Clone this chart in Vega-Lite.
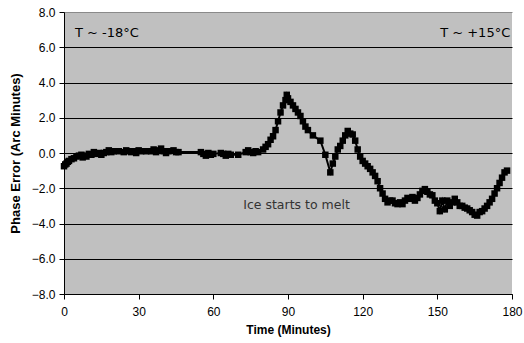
{
  "$schema": "https://vega.github.io/schema/vega-lite/v6.json",
  "width": 448,
  "height": 282,
  "autosize": {"type": "none"},
  "padding": {"left": 64, "top": 12, "right": 12, "bottom": 49},
  "background": "white",
  "config": {
    "view": {"fill": "#c0c0c0", "stroke": null},
    "font": "Liberation Sans"
  },
  "datasets": {
    "series": [
      {"t": 0, "v": -0.75}, {"t": 0.5, "v": -0.65}, {"t": 1, "v": -0.6}, {"t": 1.5, "v": -0.5},
      {"t": 2, "v": -0.45}, {"t": 3, "v": -0.35}, {"t": 4, "v": -0.3}, {"t": 5, "v": -0.2},
      {"t": 6, "v": -0.15}, {"t": 7, "v": -0.1}, {"t": 7.5, "v": -0.25}, {"t": 8, "v": -0.15},
      {"t": 9, "v": -0.2}, {"t": 10, "v": -0.05}, {"t": 11, "v": -0.1}, {"t": 12, "v": 0.05},
      {"t": 13, "v": -0.05}, {"t": 14, "v": 0.0}, {"t": 15, "v": -0.1}, {"t": 16, "v": 0.0},
      {"t": 17, "v": 0.05}, {"t": 18, "v": 0.15}, {"t": 19, "v": 0.05}, {"t": 20, "v": 0.1},
      {"t": 22, "v": 0.1}, {"t": 24, "v": 0.05}, {"t": 25, "v": 0.15}, {"t": 26, "v": 0.1},
      {"t": 27, "v": 0.05}, {"t": 28, "v": 0.1}, {"t": 29, "v": 0.0}, {"t": 30, "v": 0.15},
      {"t": 31, "v": 0.1}, {"t": 33, "v": 0.1}, {"t": 35, "v": 0.1}, {"t": 36, "v": 0.2},
      {"t": 37, "v": 0.05}, {"t": 38, "v": 0.15}, {"t": 39, "v": 0.25}, {"t": 40, "v": 0.1},
      {"t": 41, "v": 0.0}, {"t": 42, "v": 0.1}, {"t": 44, "v": 0.15}, {"t": 45, "v": 0.05},
      {"t": 46, "v": 0.05}, {"t": 55, "v": 0.05}, {"t": 56, "v": -0.05}, {"t": 57, "v": -0.15},
      {"t": 58, "v": 0.0}, {"t": 59, "v": -0.1}, {"t": 60, "v": -0.05}, {"t": 63, "v": 0.0},
      {"t": 64, "v": -0.05}, {"t": 65, "v": -0.15}, {"t": 66, "v": -0.05}, {"t": 67, "v": -0.1},
      {"t": 70, "v": -0.1}, {"t": 73, "v": 0.05}, {"t": 74, "v": 0.15}, {"t": 75, "v": 0.05},
      {"t": 76, "v": 0.0}, {"t": 77, "v": 0.1}, {"t": 78, "v": 0.05}, {"t": 80, "v": 0.2},
      {"t": 81, "v": 0.35}, {"t": 82, "v": 0.5}, {"t": 83, "v": 0.75}, {"t": 84, "v": 0.95},
      {"t": 85, "v": 1.3}, {"t": 86, "v": 1.8}, {"t": 87, "v": 2.3}, {"t": 88, "v": 2.7},
      {"t": 89, "v": 3.0}, {"t": 89.5, "v": 3.3}, {"t": 90, "v": 3.1}, {"t": 91, "v": 2.9},
      {"t": 92, "v": 2.7}, {"t": 93, "v": 2.5}, {"t": 94, "v": 2.3}, {"t": 95, "v": 2.1},
      {"t": 96, "v": 1.8}, {"t": 97, "v": 1.5}, {"t": 98, "v": 1.3}, {"t": 100, "v": 1.0},
      {"t": 103, "v": 0.7}, {"t": 105, "v": -0.1}, {"t": 107, "v": -1.1}, {"t": 108, "v": -0.6},
      {"t": 109, "v": -0.2}, {"t": 110, "v": 0.2}, {"t": 111, "v": 0.4}, {"t": 112, "v": 0.7},
      {"t": 113, "v": 1.0}, {"t": 114, "v": 1.25}, {"t": 115, "v": 1.1}, {"t": 116, "v": 1.05},
      {"t": 117, "v": 0.7}, {"t": 118, "v": 0.2}, {"t": 119, "v": -0.2}, {"t": 120, "v": -0.45},
      {"t": 121, "v": -0.6}, {"t": 122, "v": -0.75}, {"t": 123, "v": -0.9}, {"t": 124, "v": -1.1},
      {"t": 125, "v": -1.3}, {"t": 126, "v": -1.6}, {"t": 127, "v": -2.0}, {"t": 128, "v": -2.3},
      {"t": 129, "v": -2.6}, {"t": 130, "v": -2.8}, {"t": 131, "v": -2.7}, {"t": 132, "v": -2.7},
      {"t": 133, "v": -2.85}, {"t": 134, "v": -2.9}, {"t": 135, "v": -2.8}, {"t": 136, "v": -2.9},
      {"t": 137, "v": -2.7}, {"t": 138, "v": -2.55}, {"t": 139, "v": -2.6}, {"t": 140, "v": -2.5},
      {"t": 141, "v": -2.7}, {"t": 142, "v": -2.55}, {"t": 143, "v": -2.35}, {"t": 144, "v": -2.15},
      {"t": 145, "v": -2.05}, {"t": 146, "v": -2.2}, {"t": 147, "v": -2.35}, {"t": 148, "v": -2.4},
      {"t": 149, "v": -2.7}, {"t": 150, "v": -2.85}, {"t": 151, "v": -3.3}, {"t": 152, "v": -2.7},
      {"t": 153, "v": -3.2}, {"t": 154, "v": -2.7}, {"t": 155, "v": -3.0}, {"t": 156, "v": -2.8},
      {"t": 157, "v": -2.6}, {"t": 158, "v": -2.8}, {"t": 159, "v": -3.0}, {"t": 160, "v": -3.0},
      {"t": 161, "v": -3.1}, {"t": 162, "v": -3.15}, {"t": 163, "v": -3.25}, {"t": 164, "v": -3.35},
      {"t": 165, "v": -3.5}, {"t": 166, "v": -3.55}, {"t": 167, "v": -3.35}, {"t": 168, "v": -3.3},
      {"t": 169, "v": -3.15}, {"t": 170, "v": -3.0}, {"t": 171, "v": -2.8}, {"t": 172, "v": -2.6},
      {"t": 173, "v": -2.3}, {"t": 174, "v": -2.0}, {"t": 175, "v": -1.7}, {"t": 176, "v": -1.4},
      {"t": 177, "v": -1.1}, {"t": 178, "v": -1.0}
    ],
    "notes": [
      {"t": 4.4, "v": 6.8, "label": "T ~  -18°C", "align": "left", "kind": "temp"},
      {"t": 179.3, "v": 6.8, "label": "T ~  +15°C", "align": "right", "kind": "temp"},
      {"t": 72, "v": -2.95, "label": "Ice starts to melt", "align": "left", "kind": "ice"}
    ]
  },
  "encoding": {
    "x": {
      "field": "t", "type": "quantitative",
      "scale": {"domain": [0, 180], "nice": false},
      "axis": {
        "title": "Time (Minutes)", "values": [0, 30, 60, 90, 120, 150, 180],
        "grid": false, "domainColor": "black", "tickColor": "black",
        "tickSize": 5, "labelPadding": 7, "labelFontSize": 12, "labelColor": "black",
        "labelFont": "Liberation Sans", "titleFont": "Liberation Sans",
        "titleFontSize": 12, "titleFontWeight": "bold", "titleColor": "black",
        "titlePadding": 7, "labelFlush": false, "labelOverlap": false
      }
    },
    "y": {
      "field": "v", "type": "quantitative",
      "scale": {"domain": [-8, 8], "nice": false},
      "axis": {
        "title": "Phase Error (Arc Minutes)", "values": [-8, -6, -4, -2, 0, 2, 4, 6, 8],
        "format": ".1f", "grid": true,
        "gridColor": {"condition": {"test": "datum.value == 8", "value": "#8a8a8a"}, "value": "black"},
        "gridWidth": 1, "gridOpacity": 1,
        "domainColor": "black", "tickColor": "black", "tickSize": 5,
        "labelPadding": 4, "labelFontSize": 12, "labelColor": "black",
        "labelFont": "Liberation Sans", "titleFont": "Liberation Sans",
        "titleFontSize": 13, "titleFontWeight": "bold", "titleColor": "black",
        "titlePadding": 9, "labelFlush": false, "labelOverlap": false
      }
    }
  },
  "layer": [
    {
      "data": {"name": "series"},
      "mark": {"type": "line", "color": "black", "strokeWidth": 2}
    },
    {
      "data": {"name": "series"},
      "mark": {"type": "point", "shape": "square", "filled": true, "color": "black", "size": 42, "opacity": 1}
    },
    {
      "data": {"name": "notes"},
      "transform": [{"filter": "datum.kind == 'temp' && datum.align == 'left'"}],
      "mark": {"type": "text", "align": "left", "baseline": "middle", "fontSize": 13, "font": "DejaVu Sans", "color": "black"},
      "encoding": {"text": {"field": "label"}}
    },
    {
      "data": {"name": "notes"},
      "transform": [{"filter": "datum.kind == 'temp' && datum.align == 'right'"}],
      "mark": {"type": "text", "align": "right", "baseline": "middle", "fontSize": 13, "font": "DejaVu Sans", "color": "black"},
      "encoding": {"text": {"field": "label"}}
    },
    {
      "data": {"name": "notes"},
      "transform": [{"filter": "datum.kind == 'ice'"}],
      "mark": {"type": "text", "align": "left", "baseline": "middle", "fontSize": 12.5, "font": "DejaVu Sans", "color": "#333333"},
      "encoding": {"text": {"field": "label"}}
    }
  ]
}
